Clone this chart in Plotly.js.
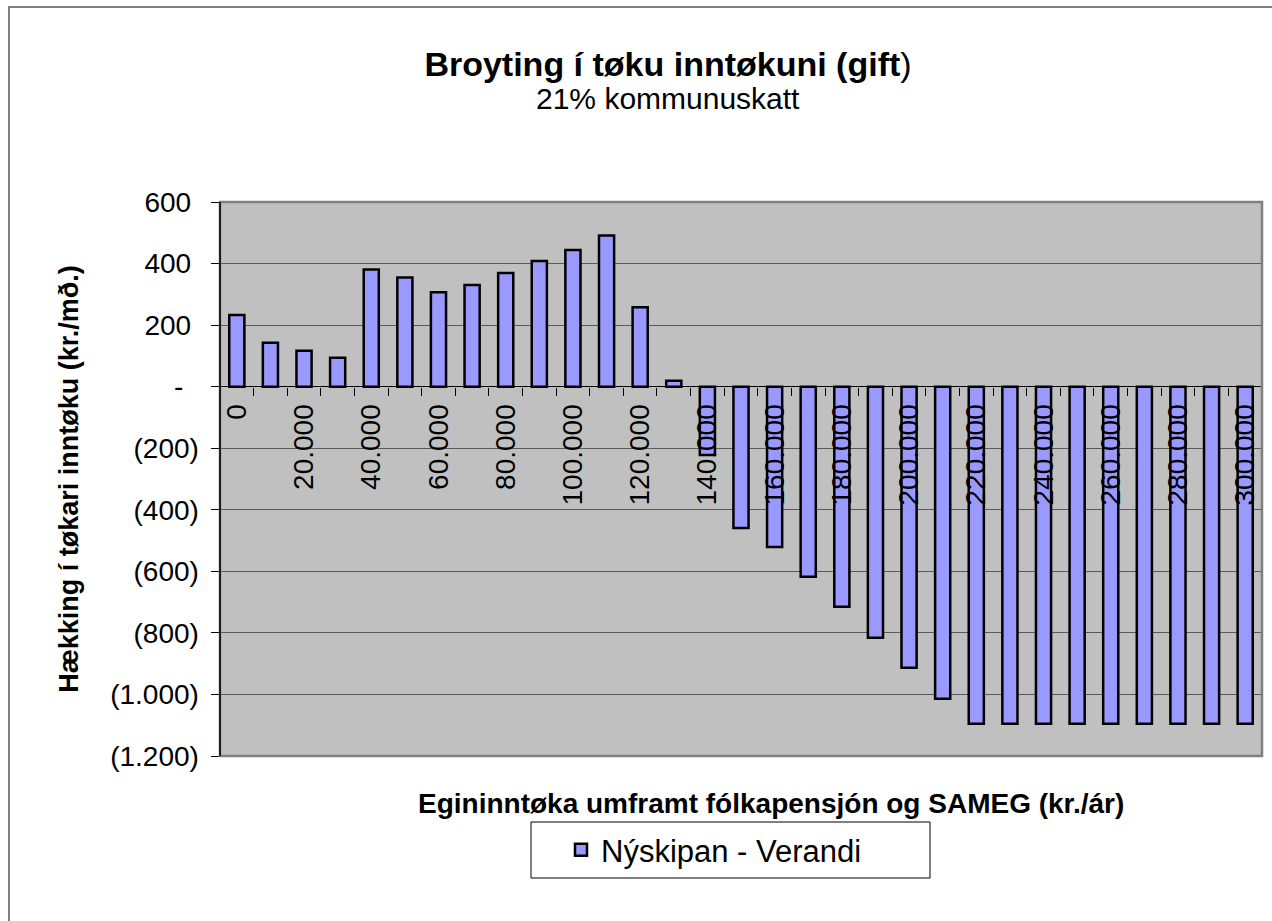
<!DOCTYPE html>
<html>
<head>
<meta charset="utf-8">
<script src="https://cdn.plot.ly/plotly-3.0.1.min.js"></script>
<style>html,body{margin:0;padding:0;background:#fff;}#chart{width:1272px;height:921px;}</style>
</head>
<body>
<div id="chart"></div>
<script>
// ---- data ----
var incomes = [0,10000,20000,30000,40000,50000,60000,70000,80000,90000,100000,110000,120000,130000,140000,150000,160000,170000,180000,190000,200000,210000,220000,230000,240000,250000,260000,270000,280000,290000,300000];
var changeValues = [233,143,117,94,381,355,307,330,369,408,444,491,258,19,-222,-459,-521,-618,-715,-816,-913,-1014,-1095,-1095,-1095,-1095,-1095,-1095,-1095,-1095,-1095];
var xTickVals = [0,20000,40000,60000,80000,100000,120000,140000,160000,180000,200000,220000,240000,260000,280000,300000];
var xTickText = ["0","20.000","40.000","60.000","80.000","100.000","120.000","140.000","160.000","180.000","200.000","220.000","240.000","260.000","280.000","300.000"];
var yTickVals = [600,400,200,0,-200,-400,-600,-800,-1000,-1200];
var yTickText = ["600\u00a0","400\u00a0","200\u00a0","-\u00a0\u00a0","(200)","(400)","(600)","(800)","(1.000)","(1.200)"];
var seriesName = "Nýskipan - Verandi";
var titleText = "Broyting í tøku inntøkuni (gift";
var subtitleText = "21% kommunuskatt";

// category boundaries for the small tick marks
var boundaries = [];
for (var i = 0; i < incomes.length - 1; i++) boundaries.push((incomes[i] + incomes[i+1]) / 2);

var FONT = "Arial, 'Liberation Sans', sans-serif";
var W = 1272, H = 921, L = 220, R = 10, T = 202, B = 165;
var pw = W - L - R, ph = H - T - B;
function px(x){ return (x - L) / pw; }
function py(y){ return (H - B - y) / ph; }

var trace = {
  type: 'bar',
  x: incomes,
  y: changeValues,
  name: seriesName,
  width: 4500,
  marker: {color: '#9999FF', line: {color: '#000000', width: 2.5}},
  showlegend: true,
  hoverinfo: 'x+y'
};

var layout = {
  width: W, height: H,
  margin: {l: L, r: R, t: T, b: B},
  paper_bgcolor: '#FFFFFF',
  plot_bgcolor: '#C0C0C0',
  font: {family: FONT, size: 28, color: '#000'},
  title: {
    text: "<b>" + titleText + "</b>)",
    font: {family: FONT, size: 34, color: '#000'},
    x: 668 / W, xref: 'container', xanchor: 'center',
    y: 1 - 64 / H, yref: 'container', yanchor: 'middle'
  },
  xaxis: {
    type: 'linear',
    range: [-5000, 305000],
    anchor: 'free',
    position: 1200 / 1800,
    showgrid: false, zeroline: false, showline: false,
    tickmode: 'array', tickvals: xTickVals, ticktext: xTickText,
    ticks: '', tickangle: -90,
    ticklabelstandoff: 11,
    tickfont: {family: FONT, size: 28, color: '#000'},
    minor: {tickmode: 'array', tickvals: boundaries, ticks: 'outside', ticklen: 8, tickwidth: 1, tickcolor: '#000', showgrid: false}
  },
  yaxis: {
    range: [-1200, 600],
    tickmode: 'array', tickvals: yTickVals, ticktext: yTickText,
    ticks: 'outside', ticklen: 8, tickwidth: 1, tickcolor: '#000',
    ticklabelstandoff: 6,
    showline: true, linecolor: '#000', linewidth: 1.5,
    showgrid: true, gridcolor: '#5a5a5a', gridwidth: 1,
    zeroline: true, zerolinecolor: '#000', zerolinewidth: 1.5,
    tickfont: {family: FONT, size: 28, color: '#000'},
    title: {text: "<b>Hækking í tøkari inntøku (kr./mð.)</b>", font: {family: FONT, size: 27, color: '#000'}, standoff: 23}
  },
  legend: {
    orientation: 'h',
    x: px(714), xanchor: 'center',
    y: py(850), yanchor: 'middle',
    bgcolor: 'rgba(0,0,0,0)',
    borderwidth: 0,
    font: {family: FONT, size: 31, color: '#000'},
    itemwidth: 30
  },
  annotations: [{
    text: subtitleText,
    xref: 'paper', yref: 'paper',
    x: px(668), y: py(98), xanchor: 'center', yanchor: 'middle',
    showarrow: false,
    font: {family: FONT, size: 30, color: '#000'}
  }, {
    text: "<b>Egininntøka umframt fólkapensjón og SAMEG (kr./ár)</b>",
    xref: 'paper', yref: 'paper',
    x: px(771), y: py(803), xanchor: 'center', yanchor: 'middle',
    showarrow: false,
    font: {family: FONT, size: 28, color: '#000'}
  }],
  shapes: [
    {type: 'rect', xref: 'paper', yref: 'paper', x0: 0, x1: 1, y0: 0, y1: 1,
     line: {color: '#808080', width: 2.5}, fillcolor: 'rgba(0,0,0,0)', layer: 'above'},
    {type: 'line', xref: 'paper', yref: 'paper', x0: 0, x1: 0, y0: 0, y1: 1,
     line: {color: '#000', width: 1.5}, layer: 'above'},
    {type: 'rect', xref: 'paper', yref: 'paper', x0: px(531), x1: px(930), y0: py(822), y1: py(878),
     line: {color: '#000', width: 1}, fillcolor: 'rgba(0,0,0,0)'},
    {type: 'rect', xref: 'paper', yref: 'paper', x0: px(9), x1: px(1285), y0: py(7), y1: py(935),
     line: {color: '#555', width: 1.5}, fillcolor: 'rgba(0,0,0,0)'}
  ]
};

Plotly.newPlot('chart', [trace], layout, {displayModeBar: false, staticPlot: true});
</script>
</body>
</html>
